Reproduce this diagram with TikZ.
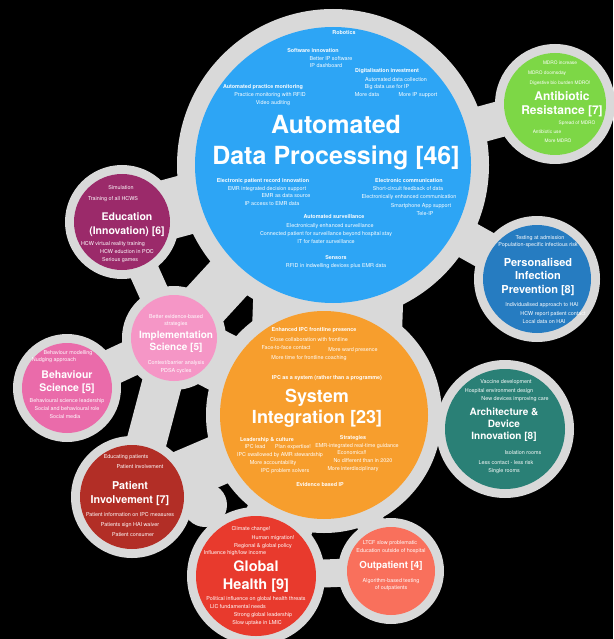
\documentclass[tikz,border=0pt]{standalone}
\usepackage{fontspec}
\setmainfont{TeX Gyre Heros}
\definecolor{blobgrey}{RGB}{217,217,217}
\definecolor{adpblue}{RGB}{45,165,245}
\definecolor{abrgreen}{RGB}{125,215,70}
\definecolor{pipblue}{RGB}{38,124,193}
\definecolor{eduplum}{RGB}{155,42,106}
\definecolor{imspink}{RGB}{245,150,198}
\definecolor{bhspink}{RGB}{234,107,170}
\definecolor{syiorange}{RGB}{247,158,45}
\definecolor{aditeal}{RGB}{42,128,118}
\definecolor{paired}{RGB}{178,46,38}
\definecolor{glhred}{RGB}{232,58,45}
\definecolor{outsalmon}{RGB}{249,112,92}
\tikzset{
  disc/.style={circle,inner sep=0pt,draw=none},
  bridge/.style={draw=blobgrey,line cap=round},
  item/.style={text=white,inner sep=0pt,font=\fontsize{5.4}{6}\selectfont},
  itemhead/.style={item,font=\fontsize{5.4}{6}\selectfont\bfseries},
  title/.style={text=white,inner sep=0pt,align=center},
}
\begin{document}
\begin{tikzpicture}[x=1pt,y=-1pt]
\path[fill=black,use as bounding box] (0,0) rectangle (613,639);
\coordinate (adp) at (333,165);
\coordinate (abr) at (555,104);
\coordinate (pip) at (537,279);
\coordinate (edu) at (122,222);
\coordinate (ims) at (174,338);
\coordinate (bhs) at (67,388);
\coordinate (syi) at (324,415);
\coordinate (adi) at (505,429);
\coordinate (pai) at (132,497);
\coordinate (glh) at (256,576);
\coordinate (out) at (391,571);
\coordinate (fill1) at (205,505);
%% grey blob
\fill[blobgrey] (adp) circle[radius=156pt];
\fill[blobgrey] (abr) circle[radius=60pt];
\fill[blobgrey] (pip) circle[radius=63pt];
\fill[blobgrey] (edu) circle[radius=57pt];
\fill[blobgrey] (ims) circle[radius=52pt];
\fill[blobgrey] (bhs) circle[radius=54pt];
\fill[blobgrey] (syi) circle[radius=118pt];
\fill[blobgrey] (adi) circle[radius=69pt];
\fill[blobgrey] (pai) circle[radius=61pt];
\fill[blobgrey] (glh) circle[radius=69pt];
\fill[blobgrey] (out) circle[radius=53pt];
\fill[blobgrey] (fill1) circle[radius=22pt];
\draw[bridge,line width=36pt] (adp) -- (abr);
\draw[bridge,line width=38pt] (adp) -- (pip);
\draw[bridge,line width=60pt] (adp) -- (edu);
\draw[bridge,line width=50pt] (adp) -- (ims);
\draw[bridge,line width=150pt] (adp) -- (syi);
\draw[bridge,line width=30pt] (edu) -- (ims);
\draw[bridge,line width=36pt] (ims) -- (bhs);
\draw[bridge,line width=60pt] (ims) -- (syi);
\draw[bridge,line width=40pt] (ims) -- (pai);
\draw[bridge,line width=50pt] (pai) -- (syi);
\draw[bridge,line width=70pt] (syi) -- (glh);
\draw[bridge,line width=28pt] (syi) -- (out);
\draw[bridge,line width=28pt] (glh) -- (out);
\draw[bridge,line width=34pt] (syi) -- (adi);
%% coloured discs
\node[disc,fill=adpblue,minimum size=276pt] (adpdisc) at (adp) {};
\node[disc,fill=abrgreen,minimum size=102pt] (abrdisc) at (abr) {};
\node[disc,fill=pipblue,minimum size=108pt] (pipdisc) at (pip) {};
\node[disc,fill=eduplum,minimum size=96pt] (edudisc) at (edu) {};
\node[disc,fill=imspink,minimum size=86pt] (imsdisc) at (ims) {};
\node[disc,fill=bhspink,minimum size=90pt] (bhsdisc) at (bhs) {};
\node[disc,fill=syiorange,minimum size=208pt] (syidisc) at (syi) {};
\node[disc,fill=aditeal,minimum size=120pt] (adidisc) at (adi) {};
\node[disc,fill=paired,minimum size=104pt] (paidisc) at (pai) {};
\node[disc,fill=glhred,minimum size=120pt] (glhdisc) at (glh) {};
\node[disc,fill=outsalmon,minimum size=88pt] (outdisc) at (out) {};
%% Automated Data Processing
\node[title,font=\fontsize{25}{31}\selectfont\bfseries] (adptitle) at (336,143) {Automated\\Data Processing [46]};
\node[itemhead] (adp1) at (344,33) {Robotics};
\node[itemhead] (adp2) at (313,51) {Software innovation};
\node[item] (adp3) at (331,59) {Better IP software};
\node[item] (adp4) at (326,66) {IP dashboard};
\node[itemhead] (adp5) at (387,71) {Digitalisation investment};
\node[item] (adp6) at (396,80) {Automated data collection};
\node[item] (adp7) at (387,87) {Big data use for IP};
\node[item] (adp8) at (367,95) {More data};
\node[item] (adp9) at (418,95) {More IP support};
\node[itemhead] (adp10) at (263,87) {Automated practice monitoring};
\node[item] (adp11) at (270,95) {Practice monitoring with RFID};
\node[item] (adp12) at (273,103) {Video auditing};
\node[itemhead] (adp13) at (263,181) {Electronic patient record innovation};
\node[item] (adp14) at (267,189) {EMR integrated decision support};
\node[item] (adp15) at (286,196) {EMR as data source};
\node[item] (adp16) at (272,204) {IP access to EMR data};
\node[itemhead] (adp17) at (409,181) {Electronic communication};
\node[item] (adp18) at (408,189) {Short-circuit feedback of data};
\node[item] (adp19) at (409,197) {Electronically enhanced communication};
\node[item] (adp20) at (421,206) {Smartphone App support};
\node[item] (adp21) at (425,214) {Tele-IP};
\node[itemhead] (adp22) at (334,217) {Automated surveillance};
\node[item] (adp23) at (330,226) {Electronically enhanced surveillance};
\node[item] (adp24) at (326,234) {Connected patient for surveillance beyond hospital stay};
\node[item] (adp25) at (326,242) {IT for faster surveillance};
\node[itemhead] (adp26) at (336,258) {Sensors};
\node[item] (adp27) at (336,266) {RFID in indwelling devices plus EMR data};
%% Antibiotic Resistance
\node[title,font=\fontsize{12}{14}\selectfont\bfseries] (abrtitle) at (562,104) {Antibiotic\\Resistance [7]};
\node[item,font=\fontsize{4.8}{5}\selectfont] (abr1) at (560,63) {MDRO increase};
\node[item,font=\fontsize{4.8}{5}\selectfont] (abr2) at (547,73) {MDRO doomsday};
\node[item,font=\fontsize{4.8}{5}\selectfont] (abr3) at (560,83) {Digestive bio burden MDRO!};
\node[item,font=\fontsize{4.8}{5}\selectfont] (abr4) at (577,123) {Spread of MDRO};
\node[item,font=\fontsize{4.8}{5}\selectfont] (abr5) at (547,132) {Antibiotic use};
\node[item,font=\fontsize{4.8}{5}\selectfont] (abr6) at (558,141) {More MDRO};
%% Personalised Infection Prevention
\node[title,font=\fontsize{11}{13.5}\selectfont\bfseries] (piptitle) at (538,277) {Personalised\\Infection\\Prevention [8]};
\node[item] (pip1) at (540,238) {Testing at admission};
\node[item] (pip2) at (538,245) {Population-specific infectious risk};
\node[item] (pip3) at (542,305) {Individualised approach to HAI};
\node[item] (pip4) at (553,314) {HCW report patient contact};
\node[item] (pip5) at (544,322) {Local data on HAI};
%% Education (Innovation)
\node[title,font=\fontsize{10.5}{14}\selectfont\bfseries] (edutitle) at (127,225) {Education\\(Innovation) [6]};
\node[item] (edu1) at (121,188) {Simulation};
\node[item] (edu2) at (113,199) {Training of all HCWS};
\node[item] (edu3) at (113,244) {HCW virtual reality training};
\node[item] (edu4) at (127,252) {HCW eduction in POC};
\node[item] (edu5) at (120,260) {Serious games};
%% Implementation Science
\node[title,font=\fontsize{10}{12}\selectfont\bfseries] (imstitle) at (176,342) {Implementation\\Science [5]};
\node[item] (ims1) at (176,317) {Better evidence-based};
\node[item] (ims2) at (176,324) {strategies};
\node[item] (ims3) at (176,363) {Context/barrier analysis};
\node[item] (ims4) at (176,371) {PDSA cycles};
%% Behaviour Science
\node[title,font=\fontsize{10.5}{13}\selectfont\bfseries] (bhstitle) at (67,382) {Behaviour\\Science [5]};
\node[item] (bhs1) at (68,353) {Behaviour modelling};
\node[item] (bhs2) at (54,360) {Nudging approach};
\node[item] (bhs3) at (67,401) {Behavioural science leadership};
\node[item] (bhs4) at (67,409) {Social and behavioural role};
\node[item] (bhs5) at (65,417) {Social media};
%% System Integration
\node[title,font=\fontsize{18}{21}\selectfont\bfseries] (syititle) at (317,408) {System\\Integration [23]};
\node[itemhead] (syi1) at (314,330) {Enhanced IPC frontline presence};
\node[item] (syi2) at (309,340) {Close collaboration with frontline};
\node[item] (syi3) at (286,348) {Face-to-face contact};
\node[item] (syi4) at (353,350) {More ward presence};
\node[item] (syi5) at (309,358) {More time for frontline coaching};
\node[itemhead] (syi6) at (327,378) {IPC as a system (rather than a programme)};
\node[itemhead] (syi7) at (267,440) {Leadership \& culture};
\node[item] (syi8) at (255,447) {IPC lead};
\node[item] (syi9) at (293,447) {Plan expertise!};
\node[item] (syi10) at (280,455) {IPC swallowed by AMR stewardship};
\node[item] (syi11) at (273,463) {More accountability};
\node[item] (syi12) at (285,471) {IPC problem solvers};
\node[itemhead] (syi13) at (353,438) {Strategies};
\node[item] (syi14) at (357,446) {EMR-integrated real-time guidance};
\node[item] (syi15) at (352,453) {Economics!!};
\node[item] (syi16) at (363,461) {No different than in 2020};
\node[item] (syi17) at (353,469) {More interdisciplinary};
\node[itemhead] (syi18) at (320,485) {Evidence based IP};
%% Architecture & Device Innovation
\node[title,font=\fontsize{10}{12}\selectfont\bfseries] (adititle) at (504,425) {Architecture \&\\Device\\Innovation [8]};
\node[item] (adi1) at (506,382) {Vaccine development};
\node[item] (adi2) at (499,391) {Hospital environment design};
\node[item] (adi3) at (515,399) {New devices improving care};
\node[item] (adi4) at (523,453) {Isolation rooms};
\node[item] (adi5) at (506,463) {Less contact - less risk};
\node[item] (adi6) at (504,471) {Single rooms};
%% Patient Involvement
\node[title,font=\fontsize{10.8}{14}\selectfont\bfseries] (paititle) at (130,494) {Patient\\Involvement [7]};
\node[item] (pai1) at (126,457) {Educating patients};
\node[item] (pai2) at (140,467) {Patient involvement};
\node[item] (pai3) at (130,515) {Patient information on IPC measures};
\node[item] (pai4) at (130,525) {Patients sign HAI waiver};
\node[item] (pai5) at (133,535) {Patient consumer};
%% Global Health
\node[title,font=\fontsize{14.5}{18}\selectfont\bfseries] (glhtitle) at (256,577) {Global\\Health [9]};
\node[item] (glh1) at (251,529) {Climate change!};
\node[item] (glh2) at (273,538) {Human migration!};
\node[item] (glh3) at (263,546) {Regional \& global policy};
\node[item] (glh4) at (235,553) {Influence high/low income};
\node[item] (glh5) at (256,599) {Political influence on global health threats};
\node[item] (glh6) at (238,607) {LIC fundamental needs};
\node[item] (glh7) at (263,615) {Strong global leadership};
\node[item] (glh8) at (257,623) {Slow uptake in LMIC};
%% Outpatient
\node[title,font=\fontsize{9.7}{12}\selectfont\bfseries] (outtitle) at (391,566) {Outpatient [4]};
\node[item] (out1) at (390,543) {LTCF slow problematic};
\node[item] (out2) at (391,551) {Education outside of hospital};
\node[item] (out3) at (391,581) {Algorithm-based testing};
\node[item] (out4) at (391,588) {of outpatients};
\end{tikzpicture}
\end{document}
